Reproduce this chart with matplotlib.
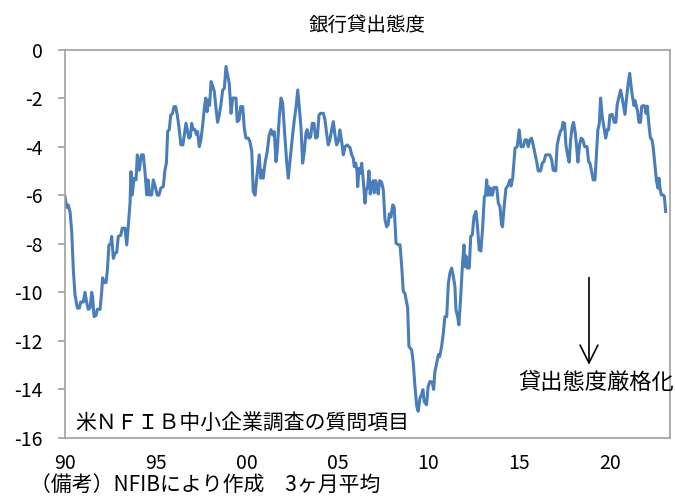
import matplotlib
matplotlib.use("Agg")
import matplotlib.pyplot as plt

plt.rcParams['font.family'] = ['Noto Sans CJK JP', 'DejaVu Sans']

# NFIB survey: bank lending attitude (3-month average)
years = [
    1990.00, 1990.09, 1990.18, 1990.28, 1990.37, 1990.46, 1990.55, 1990.68, 1990.79, 1990.86,
    1991.01, 1991.10, 1991.19, 1991.28, 1991.38, 1991.47, 1991.52, 1991.60, 1991.71, 1991.78,
    1991.93, 1992.02, 1992.07, 1992.15, 1992.26, 1992.33, 1992.42, 1992.52, 1992.57, 1992.66,
    1992.75, 1992.85, 1992.93, 1993.07, 1993.15, 1993.30, 1993.40, 1993.48, 1993.58, 1993.63,
    1993.70, 1993.80, 1993.91, 1993.98, 1994.09, 1994.20, 1994.31, 1994.40, 1994.50, 1994.58,
    1994.64, 1994.77, 1994.86, 1994.95, 1995.08, 1995.17, 1995.28, 1995.41, 1995.50, 1995.58,
    1995.65, 1995.74, 1995.82, 1995.91, 1996.00, 1996.09, 1996.18, 1996.27, 1996.38, 1996.49,
    1996.57, 1996.66, 1996.75, 1996.82, 1996.90, 1996.97, 1997.06, 1997.15, 1997.23, 1997.30,
    1997.39, 1997.48, 1997.58, 1997.67, 1997.74, 1997.82, 1997.89, 1997.96, 1998.04, 1998.11,
    1998.22, 1998.31, 1998.40, 1998.49, 1998.59, 1998.68, 1998.77, 1998.86, 1998.95, 1999.04,
    1999.14, 1999.23, 1999.32, 1999.41, 1999.48, 1999.58, 1999.67, 1999.78, 1999.87, 1999.96,
    2000.09, 2000.18, 2000.28, 2000.36, 2000.46, 2000.55, 2000.69, 2000.77, 2000.84, 2000.91,
    2001.01, 2001.13, 2001.24, 2001.34, 2001.43, 2001.52, 2001.61, 2001.68, 2001.79, 2001.89,
    2001.98, 2002.07, 2002.20, 2002.29, 2002.38, 2002.51, 2002.62, 2002.71, 2002.81, 2002.90,
    2002.99, 2003.08, 2003.17, 2003.26, 2003.33, 2003.43, 2003.52, 2003.61, 2003.70, 2003.80,
    2003.89, 2003.98, 2004.07, 2004.22, 2004.31, 2004.40, 2004.49, 2004.58, 2004.68, 2004.77,
    2004.86, 2004.95, 2005.04, 2005.13, 2005.23, 2005.32, 2005.41, 2005.54, 2005.69, 2005.78,
    2005.87, 2005.92, 2006.00, 2006.07, 2006.11, 2006.18, 2006.25, 2006.33, 2006.42, 2006.51,
    2006.58, 2006.66, 2006.73, 2006.80, 2006.88, 2006.97, 2007.02, 2007.10, 2007.17, 2007.24,
    2007.32, 2007.43, 2007.52, 2007.61, 2007.70, 2007.79, 2007.85, 2007.94, 2008.04, 2008.12,
    2008.22, 2008.34, 2008.44, 2008.53, 2008.62, 2008.71, 2008.86, 2008.93, 2009.08, 2009.17,
    2009.26, 2009.36, 2009.44, 2009.54, 2009.63, 2009.70, 2009.77, 2009.90, 2009.99, 2010.09,
    2010.21, 2010.29, 2010.36, 2010.46, 2010.55, 2010.62, 2010.73, 2010.82, 2010.91, 2011.01,
    2011.10, 2011.19, 2011.28, 2011.37, 2011.46, 2011.52, 2011.61, 2011.68, 2011.78, 2011.87,
    2011.96, 2012.01, 2012.07, 2012.14, 2012.25, 2012.33, 2012.42, 2012.51, 2012.62, 2012.69,
    2012.80, 2012.89, 2012.99, 2013.08, 2013.15, 2013.21, 2013.26, 2013.32, 2013.37, 2013.44,
    2013.52, 2013.61, 2013.76, 2013.85, 2013.94, 2014.03, 2014.08, 2014.17, 2014.27, 2014.40,
    2014.49, 2014.55, 2014.64, 2014.77, 2014.89, 2015.00, 2015.10, 2015.22, 2015.32, 2015.41,
    2015.50, 2015.59, 2015.68, 2015.77, 2015.87, 2015.96, 2016.05, 2016.18, 2016.27, 2016.36,
    2016.46, 2016.69, 2016.79, 2016.87, 2017.01, 2017.09, 2017.19, 2017.28, 2017.34, 2017.41,
    2017.50, 2017.57, 2017.66, 2017.75, 2017.83, 2017.92, 2017.99, 2018.08, 2018.16, 2018.23,
    2018.32, 2018.41, 2018.51, 2018.60, 2018.73, 2018.82, 2018.89, 2018.99, 2019.07, 2019.17,
    2019.26, 2019.33, 2019.41, 2019.48, 2019.57, 2019.66, 2019.76, 2019.85, 2019.92, 2019.99,
    2020.12, 2020.23, 2020.32, 2020.39, 2020.49, 2020.58, 2020.67, 2020.75, 2020.82, 2020.91,
    2021.00, 2021.08, 2021.15, 2021.22, 2021.32, 2021.37, 2021.43, 2021.52, 2021.59, 2021.68,
    2021.74, 2021.83, 2021.92, 2021.98, 2022.05, 2022.14, 2022.22, 2022.31, 2022.38, 2022.47,
    2022.56, 2022.64, 2022.69, 2022.75, 2022.82, 2022.93, 2022.99, 2023.06,
]
values = [
    -6.06, -6.5, -6.4, -6.7, -7.5, -9.1, -10.1, -10.65, -10.65, -10.4,
    -10.4, -10.0, -10.4, -10.7, -10.65, -10.0, -10.2, -11.0, -10.95, -10.7,
    -10.7, -9.97, -9.4, -9.6, -9.6, -9.1, -8.05, -8.0, -7.7, -8.6,
    -8.4, -8.35, -7.7, -7.65, -7.36, -7.36, -8.05, -7.3, -6.33, -5.03,
    -5.99, -5.3, -5.37, -4.34, -4.97, -4.34, -4.34, -5.03, -5.99, -5.37,
    -5.99, -5.99, -5.37, -5.6, -6.0, -6.0, -5.7, -5.65, -4.97, -4.68,
    -3.38, -3.3, -2.7, -2.65, -2.35, -2.35, -2.7, -3.18, -3.93, -3.93,
    -3.5, -3.04, -3.38, -3.65, -3.6, -3.04, -3.3, -3.3, -3.5, -3.38,
    -4.0, -3.72, -3.1, -2.42, -2.0, -2.56, -2.07, -2.3, -1.32, -1.46,
    -1.73, -2.42, -3.0, -2.7, -2.22, -1.67, -1.6, -0.7, -1.05, -1.4,
    -2.63, -2.0, -2.0, -2.0, -2.97, -2.9, -2.35, -2.35, -3.25, -3.65,
    -3.65, -3.8, -4.2, -5.85, -6.0, -5.3, -4.34, -5.3, -4.97, -5.3,
    -4.68, -4.2, -3.52, -3.3, -3.52, -3.38, -4.62, -4.2, -2.83, -2.0,
    -2.2, -3.24, -4.62, -5.3, -4.62, -3.65, -2.9, -2.42, -1.67, -2.42,
    -3.24, -4.68, -4.2, -3.45, -3.3, -3.65, -3.6, -3.04, -3.04, -3.65,
    -3.6, -2.7, -2.63, -2.63, -2.9, -3.45, -3.93, -3.72, -3.3, -2.97,
    -3.52, -3.93, -3.8, -3.31, -3.8, -4.34, -4.0, -3.93, -4.05, -4.34,
    -4.48, -4.82, -4.68, -5.0, -5.65, -4.9, -5.1, -4.68, -5.4, -6.33,
    -5.78, -5.65, -5.0, -5.95, -5.55, -5.4, -5.9, -5.4, -5.65, -5.95,
    -5.4, -5.47, -5.78, -7.0, -7.3, -7.2, -6.77, -6.9, -6.4, -6.5,
    -7.98, -8.04, -8.04, -8.9, -9.97, -10.04, -10.65, -12.23, -12.37, -12.91,
    -13.87, -14.7, -14.9, -14.35, -14.2, -14.01, -14.5, -14.63, -13.87, -13.67,
    -13.7, -14.0, -13.26, -12.91, -12.57, -12.65, -12.23, -11.7, -11.0, -11.0,
    -9.62, -9.2, -9.0, -9.33, -9.75, -10.72, -11.0, -11.34, -10.18, -8.94,
    -8.05, -8.94, -8.5, -9.0, -9.0, -7.7, -7.63, -6.88, -6.67, -7.16,
    -8.25, -8.3, -7.3, -6.06, -6.0, -5.37, -6.0, -5.65, -6.0, -5.72,
    -6.0, -5.68, -5.68, -6.33, -6.47, -7.22, -7.3, -6.47, -5.72, -5.58,
    -5.37, -5.62, -5.3, -4.07, -4.0, -3.31, -4.0, -4.0, -3.72, -3.72,
    -4.0, -3.72, -3.65, -3.93, -4.3, -4.62, -5.0, -5.0, -4.68, -4.62,
    -4.34, -4.34, -4.55, -4.97, -5.0, -3.93, -3.58, -3.35, -3.3, -3.0,
    -3.04, -3.93, -4.34, -4.64, -3.72, -3.17, -3.0, -3.4, -4.0, -4.64,
    -3.93, -3.65, -3.72, -4.0, -4.0, -4.62, -4.68, -5.03, -5.37, -5.37,
    -4.2, -3.31, -3.04, -2.0, -2.77, -3.17, -3.65, -3.3, -3.3, -2.7,
    -2.67, -3.0, -3.0, -2.28, -1.95, -1.67, -2.0, -2.35, -2.67, -2.0,
    -1.39, -0.98, -1.46, -1.88, -2.31, -2.1, -2.28, -2.56, -3.0, -3.0,
    -2.35, -2.31, -2.33, -2.63, -2.33, -3.1, -3.63, -3.72, -4.07, -4.75,
    -5.44, -5.71, -5.3, -5.71, -5.99, -5.99, -6.06, -6.67,
]

tick_years = [1990, 1995, 2000, 2005, 2010, 2015, 2020]
tick_labels = ['90', '95', '00', '05', '10', '15', '20']
y_ticks = [0, -2, -4, -6, -8, -10, -12, -14, -16]

fig = plt.figure(figsize=(6.75, 5), dpi=100)
ax = fig.add_axes([0.0963, 0.124, 0.8963, 0.777])

ax.plot(years, values, color='#4a7ebb', linewidth=2.2)

ax.set_xlim(1990, 2023.3)
ax.set_ylim(-16, 0)
ax.set_yticks(y_ticks)
ax.set_yticklabels([str(v) for v in y_ticks])
ax.set_xticks(tick_years)
ax.set_xticklabels(tick_labels)

for side in ['left', 'right', 'top', 'bottom']:
    ax.spines[side].set_color('#a0a0a0')
    ax.spines[side].set_linewidth(1.2)
ax.tick_params(axis='y', direction='out', length=5, width=1.2, color='#a0a0a0',
               labelsize=14, pad=11)
ax.tick_params(axis='x', length=0, labelsize=14, pad=11)

ax.text(0.5, 1.063, '銀行貸出態度', transform=ax.transAxes, ha='center', va='center',
        fontsize=14)
ax.text(0.0165, 0.039, '米ＮＦＩＢ中小企業調査の質問項目', transform=ax.transAxes,
        ha='left', va='center', fontsize=15)

ax.annotate('', xy=(2018.84, -13.1), xytext=(2018.84, -9.28),
            arrowprops=dict(arrowstyle='->', color='black', lw=1.2,
                            mutation_scale=32))
ax.text(2019.22, -13.7, '貸出態度厳格化', ha='center', va='center', fontsize=16,
        clip_on=False)

fig.text(30 / 675, 1 - 485 / 500, '（備考）NFIBにより作成　3ヶ月平均', ha='left',
         va='center', fontsize=15)

fig.savefig('out.png', dpi=100, facecolor='white')
